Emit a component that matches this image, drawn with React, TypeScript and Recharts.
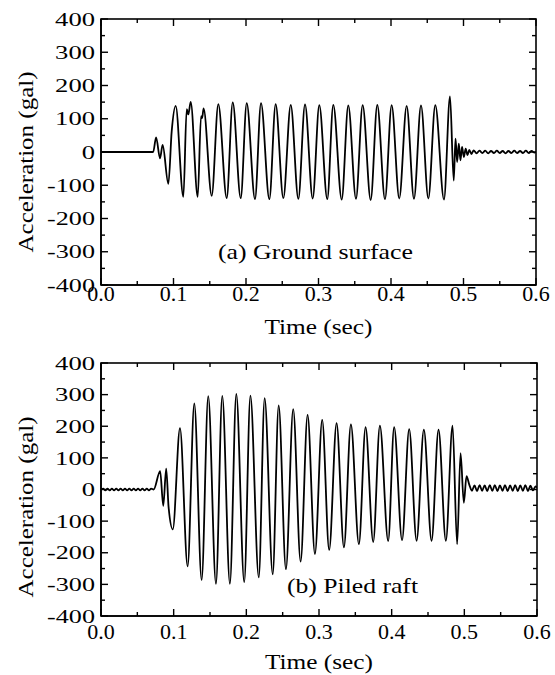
import { LineChart, Line, XAxis, YAxis } from "recharts"

const FONT = "Liberation Serif, Times New Roman, Times, serif"

const timeTicks = [0, 0.05, 0.1, 0.15, 0.2, 0.25, 0.3, 0.35, 0.4, 0.45, 0.5, 0.55, 0.6]
const accTicks = [-400, -350, -300, -250, -200, -150, -100, -50, 0, 50, 100, 150, 200, 250, 300, 350, 400]

// [time (sec), acceleration (gal)]
const groundSurface: [number, number][] = [
  [0, 0], [0.072, 0],
  [0.076, 44], [0.0814, -19], [0.085, 21], [0.0929, -96], [0.0975, 62], [0.103, 139],
  [0.1136, -135], [0.1182, 129], [0.1205, 113], [0.1237, 151],
  [0.1334, -135], [0.138, 108], [0.1395, 102], [0.1415, 131],
  [0.1527, -132], [0.1618, 144],
  [0.1734, -139], [0.1817, 149],
  [0.1927, -139], [0.201, 147],
  [0.2124, -142], [0.2207, 147],
  [0.2322, -142], [0.2409, 144],
  [0.2515, -139], [0.2617, 142],
  [0.2722, -141], [0.2814, 143],
  [0.292, -140], [0.3011, 141],
  [0.3121, -142], [0.3204, 142],
  [0.332, -143], [0.3411, 140],
  [0.3517, -141], [0.3609, 141],
  [0.372, -144], [0.3811, 142],
  [0.3917, -142], [0.4009, 141],
  [0.4114, -140], [0.4216, 139],
  [0.4317, -141], [0.4414, 140],
  [0.4515, -140], [0.4611, 141],
  [0.4731, -143], [0.4814, 167],
  [0.4865, -86], [0.489, 40], [0.4912, -30], [0.4935, 25], [0.4958, -25], [0.498, 15],
  [0.5005, -15], [0.503, 10], [0.5055, -9], [0.508, 6], [0.511, -6], [0.514, 5],
  [0.518, -4], [0.522, 4], [0.526, -3], [0.53, 4], [0.534, -4], [0.538, 3], [0.542, -3],
  [0.546, 4], [0.55, -3], [0.554, 3], [0.558, -4], [0.562, 3], [0.566, -3], [0.57, 4],
  [0.574, -3], [0.578, 3], [0.582, -3], [0.586, 4], [0.59, -3], [0.594, 3], [0.598, -2], [0.6, 0],
]

const piledRaft: [number, number][] = [
  [0, 0], [0.003, 3], [0.006, -3], [0.009, 3], [0.012, -3], [0.015, 3], [0.018, -3],
  [0.021, 3], [0.024, -3], [0.027, 3], [0.03, -3], [0.033, 3], [0.036, -3], [0.039, 3],
  [0.042, -3], [0.045, 3], [0.048, -3], [0.051, 3], [0.054, -3], [0.057, 3], [0.06, -3],
  [0.063, 3], [0.066, -3], [0.069, 3], [0.0725, 0],
  [0.0814, 58], [0.0857, -52], [0.0897, 66], [0.093, -55], [0.0988, -126],
  [0.1087, 194], [0.1192, -243], [0.1284, 272], [0.1385, -286], [0.1476, 295],
  [0.1582, -298], [0.1669, 296], [0.1774, -298], [0.1862, 302], [0.1971, -293],
  [0.2056, 297], [0.2171, -278], [0.2252, 289], [0.2363, -268], [0.2445, 266],
  [0.2545, -252], [0.2645, 254], [0.2747, -228], [0.2843, 236], [0.2944, -204],
  [0.3044, 220], [0.314, -191], [0.3242, 210], [0.3343, -183], [0.3439, 206],
  [0.3549, -173], [0.3641, 197], [0.3746, -166], [0.3838, 202], [0.3952, -163],
  [0.4034, 197], [0.4143, -160], [0.4241, 191], [0.4343, -162], [0.4443, 189],
  [0.4549, -162], [0.4645, 189], [0.4746, -162], [0.4838, 202], [0.4901, -173],
  [0.4948, 115], [0.4993, -42], [0.503, 42],
  [0.507, 14], [0.5105, -4], [0.514, 13], [0.5175, -5], [0.521, 14], [0.5245, -4],
  [0.528, 13], [0.5315, -5], [0.535, 14], [0.5385, -4], [0.542, 14], [0.5455, -5],
  [0.549, 13], [0.5525, -4], [0.556, 14], [0.5595, -5], [0.563, 13], [0.5665, -4],
  [0.57, 14], [0.5735, -5], [0.577, 13], [0.5805, -4], [0.584, 14], [0.5875, -5],
  [0.591, 12], [0.5945, -3], [0.598, 10], [0.6, 6],
]

const toRows = (pts: [number, number][]) => pts.map(([t, acc]) => ({ t, acc }))

const isMajorTime = (v: number) => Math.round(v * 20) % 2 === 0
const isMajorAcc = (v: number) => Math.round(v) % 100 === 0

const ink = { fill: "none", stroke: "#000", strokeWidth: 1.5 }

// bottom ticks point inward and are mirrored on the top edge (plotH above)
const timeTick = (labelDy: number, plotH: number) => ({ x, y, payload }: any) => {
  const major = isMajorTime(payload.value)
  const len = major ? 7 : 4
  const px = Number(x)
  const py = Number(y)
  return (
    <g>
      <rect x={px - 0.7} y={py - len} width={1.4} height={len} fill="#000" />
      <rect x={px - 0.7} y={py - plotH} width={1.4} height={len} fill="#000" />
      {major && (
        <text x={px} y={py + labelDy} textAnchor="middle" style={{ fontFamily: FONT, fontSize: 22 }} fill="#000">
          {payload.value.toFixed(1)}
        </text>
      )}
    </g>
  )
}

// left ticks point inward and are mirrored on the right edge (plotW across)
const accTick = (plotW: number) => ({ x, y, payload }: any) => {
  const major = isMajorAcc(payload.value)
  const len = major ? 7 : 4
  const px = Number(x)
  const py = Number(y)
  const label = String(payload.value)
  const textLen = label.replace("-", "").length * 13.3 + (label.startsWith("-") ? 8 : 0)
  return (
    <g>
      <rect x={px} y={py - 0.7} width={len} height={1.4} fill="#000" />
      <rect x={px + plotW - len} y={py - 0.7} width={len} height={1.4} fill="#000" />
      {major && (
        <text x={px - 6} y={py} dy="0.35em" textAnchor="end" style={{ fontFamily: FONT, fontSize: 19 }} fill="#000"
          textLength={textLen} lengthAdjust="spacingAndGlyphs">
          {label}
        </text>
      )}
    </g>
  )
}

const frame = { stroke: "#000", strokeWidth: 1.6 }

function Panel({ points, margin, labelDy }: any) {
  const height = 345
  const plotH = height - margin.top - margin.bottom - 40
  const plotW = 555 - margin.left - margin.right - 60
  return (
    <LineChart width={555} height={height} data={toRows(points)} margin={margin}>
      <XAxis dataKey="t" type="number" domain={[0, 0.6]} ticks={timeTicks} interval={0} height={40}
        tickSize={0} tickMargin={0} tickLine={false} axisLine={frame} tick={timeTick(labelDy, plotH)} allowDataOverflow />
      <YAxis type="number" domain={[-400, 400]} ticks={accTicks} interval={0} width={60}
        tickSize={0} tickMargin={0} tickLine={false} axisLine={frame} tick={accTick(plotW)} allowDataOverflow />
      <Line type="monotone" dataKey="acc" stroke="#000" strokeWidth={1.8} dot={false} isAnimationActive={false} />
    </LineChart>
  )
}

const textStyle = { fontFamily: FONT, fontSize: 22 }

export default function App() {
  return (
    <div style={{ position: "absolute", left: 0, top: 0, width: 555, height: 675, background: "#fff" }}>
      <div style={{ position: "absolute", left: 0, top: 0 }}>
        <Panel points={groundSurface} margin={{ top: 19, right: 19, bottom: 20, left: 41 }} labelDy={16} />
      </div>
      <div style={{ position: "absolute", left: 0, top: 330 }}>
        <Panel points={piledRaft} margin={{ top: 33, right: 18, bottom: 19, left: 41 }} labelDy={23} />
      </div>
      <svg width={555} height={675} style={{ position: "absolute", left: 0, top: 0, pointerEvents: "none" }}>
        {/* plot frames */}
        <rect x={101} y={19} width={435} height={266} fill="none" stroke="#000" strokeWidth={1.6} />
        <rect x={101} y={363} width={436} height={253} fill="none" stroke="#000" strokeWidth={1.6} />
        <text x={218} y={259} style={textStyle} fill="#000" textLength={195} lengthAdjust="spacingAndGlyphs">(a) Ground surface</text>
        <text x={287} y={593} style={textStyle} fill="#000" textLength={131} lengthAdjust="spacingAndGlyphs">(b) Piled raft</text>
        <text x={318.5} y={334} textAnchor="middle" style={textStyle} fill="#000" textLength={108} lengthAdjust="spacingAndGlyphs">Time (sec)</text>
        <text x={319} y={669} textAnchor="middle" style={textStyle} fill="#000" textLength={108} lengthAdjust="spacingAndGlyphs">Time (sec)</text>
        <text transform="translate(33,162) rotate(-90)" textAnchor="middle" style={textStyle} fill="#000" textLength={181} lengthAdjust="spacingAndGlyphs">Acceleration (gal)</text>
        <text transform="translate(33,507) rotate(-90)" textAnchor="middle" style={textStyle} fill="#000" textLength={181} lengthAdjust="spacingAndGlyphs">Acceleration (gal)</text>
      </svg>
    </div>
  )
}
